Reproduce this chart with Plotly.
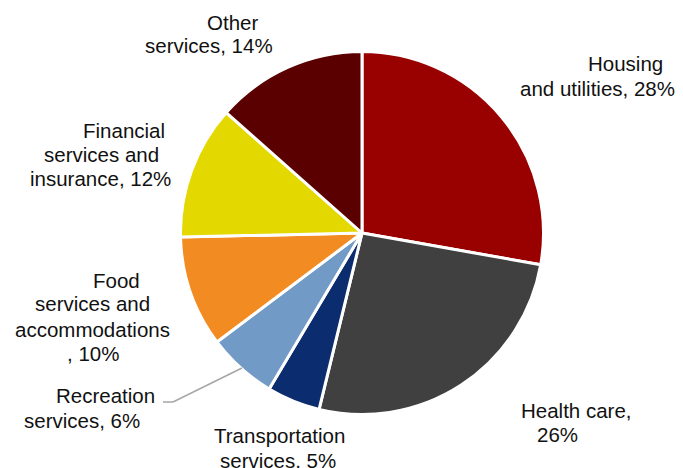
import plotly.graph_objects as go

# page body margin in the viewer is 8px; figure is sized to fill the 683x468 window
OFF = 8
W, H = 683 - OFF, 468 - OFF

categories = ["Housing and utilities", "Health care", "Transportation services",
              "Recreation services", "Food services and accommodations",
              "Financial services and insurance", "Other services"]
shares = [27.8, 26.0, 4.75, 6.2, 9.9, 11.9, 13.45]
label_lines = [
    ["Housing", "and utilities, 28%"],
    ["Health care,", "26%"],
    ["Transportation", "services, 5%"],
    ["Recreation", "services, 6%"],
    ["Food", "services and", "accommodations", ", 10%"],
    ["Financial", "services and", "insurance, 12%"],
    ["Other", "services, 14%"],
]
colors = ["#990000", "#404040", "#0B2C6E", "#729AC6", "#F28C22", "#E3D800", "#5A0000"]

# label line centres (window pixels), layout only
label_pos = [
    [(625, 64), (597, 89)],
    [(576.5, 410), (557, 434.5)],
    [(279, 435), (278, 460)],
    [(105.5, 395), (82, 420)],
    [(116.5, 280), (92, 303.5), (92.5, 329), (93, 353)],
    [(124, 130), (101.5, 154.5), (100, 179)],
    [(232, 22), (209, 46)],
]

def px(x, y):
    return (x - OFF) / W, 1 - (y - OFF) / H

cx, cy, R = 362, 233, 181.5
x0, y0 = px(cx - R, cy + R)
x1, y1 = px(cx + R, cy - R)

fig = go.Figure(go.Pie(
    labels=categories, values=shares, sort=False, direction="clockwise", rotation=0,
    marker=dict(colors=colors, line=dict(color="white", width=3)),
    textinfo="none", hoverinfo="label+percent", showlegend=False,
    domain=dict(x=[x0, x1], y=[y0, y1]),
))

annotations = []
for lines, poss in zip(label_lines, label_pos):
    for t, (x, y) in zip(lines, poss):
        ax, ay = px(x, y)
        annotations.append(dict(x=ax, y=ay, xref="paper", yref="paper", text=t,
                                showarrow=False, xanchor="center", yanchor="middle",
                                font=dict(family="Liberation Sans, Arial, sans-serif",
                                          size=20.5, color="#111111")))

# leader line for Recreation label
p0, p1, p2 = px(163, 402), px(173, 402), px(242, 368)
shapes = [
    dict(type="line", xref="paper", yref="paper", x0=p0[0], y0=p0[1], x1=p1[0], y1=p1[1],
         line=dict(color="#A6A6A6", width=1.5)),
    dict(type="line", xref="paper", yref="paper", x0=p1[0], y0=p1[1], x1=p2[0], y1=p2[1],
         line=dict(color="#A6A6A6", width=1.5)),
]

fig.update_layout(width=W, height=H, autosize=False,
                  margin=dict(l=0, r=0, t=0, b=0),
                  paper_bgcolor="white", plot_bgcolor="white",
                  annotations=annotations, shapes=shapes)

fig.write_html("out.html")
